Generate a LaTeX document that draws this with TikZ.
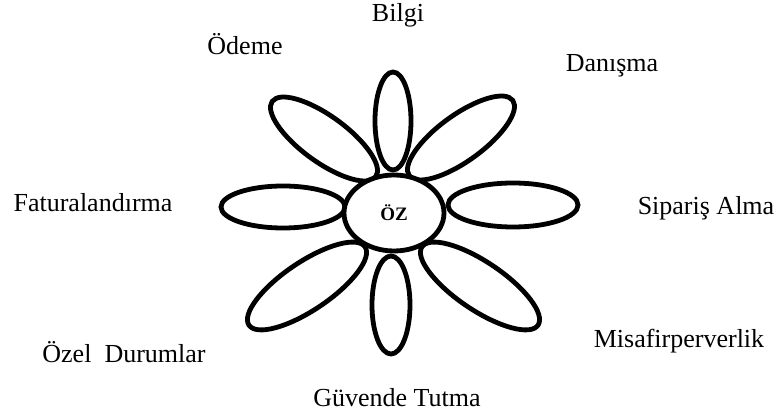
\documentclass[tikz,border=0pt]{standalone}
\usepackage{fontspec}
\setmainfont{Liberation Serif}[BoldFont={Liberation Serif Bold}]
\usetikzlibrary{shapes.geometric}

\begin{document}
\begin{tikzpicture}[x=0.5pt,y=0.5pt,
  petal/.style={ellipse,draw,line width=2.4pt,fill=white,inner sep=0pt},
  lbl/.style={anchor=base,inner sep=0pt,font=\fontsize{13}{15}\selectfont}]
\useasboundingbox (0,0) rectangle (778,418);
% petals
\node[petal,minimum width=18pt,minimum height=49pt] (pTop) at (393,297) {};
\node[petal,minimum width=19pt,minimum height=49pt] (pBot) at (391,113) {};
\node[petal,minimum width=62pt,minimum height=21pt] (pLeft) at (283,211) {};
\node[petal,minimum width=65pt,minimum height=22pt] (pRight) at (513,213) {};
\node[petal,minimum width=64pt,minimum height=23pt,rotate=-36] (pUL) at (324,279) {};
\node[petal,minimum width=64pt,minimum height=23pt,rotate=36] (pUR) at (461,280) {};
\node[petal,minimum width=70pt,minimum height=24pt,rotate=34] (pLL) at (307,132) {};
\node[petal,minimum width=70pt,minimum height=24pt,rotate=-34] (pLR) at (480,132) {};
% centre
\node[petal,minimum width=50pt,minimum height=38pt,font=\bfseries\fontsize{9.5}{11}\selectfont] (oz) at (394,205) {ÖZ};
% labels
\node[lbl] (bilgi) at (398,396) {Bilgi};
\node[lbl] (odeme) at (245,363) {Ödeme};
\node[lbl] (danisma) at (612,346) {Danışma};
\node[lbl] (fatura) at (93,206) {Faturalandırma};
\node[lbl] (siparis) at (706,203) {Sipariş Alma};
\node[lbl] (misafir) at (679,70) {Misafirperverlik};
\node[lbl] (ozel) at (124,55) {Özel~~Durumlar};
\node[lbl] (guvende) at (397,11) {Güvende Tutma};
\end{tikzpicture}
\end{document}
